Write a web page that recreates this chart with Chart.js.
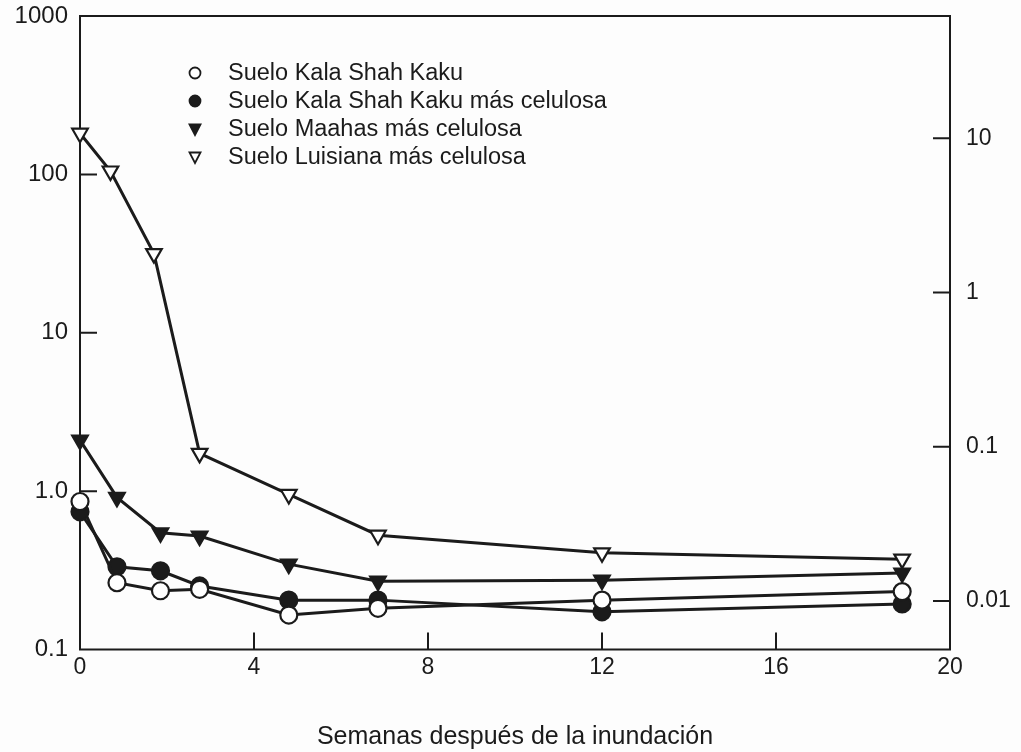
<!DOCTYPE html>
<html>
<head>
<meta charset="utf-8">
<script src="https://cdn.jsdelivr.net/npm/chart.js@4.4.1/dist/chart.umd.min.js"></script>
<style>
  html, body { margin: 0; padding: 0; background: #fdfdfd; }
  #wrap { width: 1021px; height: 752px; }
</style>
</head>
<body>
<div id="wrap"><canvas id="chart" width="1021" height="752"></canvas></div>
<script>
// weeks after flooding (x) and values
const weeks = [0, 0.85, 1.85, 2.75, 4.8, 6.85, 12, 18.9];
const weeksLuisiana = [0, 0.7, 1.7, 2.75, 4.8, 6.85, 12, 18.9];

const kalaShahKaku = [0.86, 0.264, 0.235, 0.24, 0.165, 0.182, 0.205, 0.232];
const kalaShahKakuCelulosa = [0.74, 0.333, 0.314, 0.252, 0.205, 0.205, 0.173, 0.194];
const maahasCelulosa = [2.1, 0.913, 0.546, 0.52, 0.346, 0.27, 0.274, 0.304];
const luisianaCelulosa = [182, 105, 31.6, 1.73, 0.953, 0.527, 0.408, 0.372];

const seriesLabels = [
  "Suelo Kala Shah Kaku",
  "Suelo Kala Shah Kaku más celulosa",
  "Suelo Maahas más celulosa",
  "Suelo Luisiana más celulosa"
];

const xTicks = [0, 4, 8, 12, 16, 20];
const leftTicks = [0.1, 1, 10, 100, 1000];
const leftTickLabels = ["0.1", "1.0", "10", "100", "1000"];
const rightTicks = [0.01, 0.1, 1, 10];
const rightTickLabels = ["0.01", "0.1", "1", "10"];
const xTitle = "Semanas después de la inundación";

const ink = "#1b1b1b";
const fontFamily = "'Liberation Sans', Arial, Helvetica, sans-serif";

function pts(xs, ys) {
  return xs.map((x, i) => ({ x: x, y: ys[i] }));
}

function series(label, data, style, filled) {
  return {
    label: label,
    data: data,
    borderColor: ink,
    borderWidth: 3,
    tension: 0,
    clip: false,
    pointStyle: style,
    pointRotation: style === "triangle" ? 180 : 0,
    pointRadius: style === "triangle" ? 9 : 8.5,
    pointBorderWidth: 2.2,
    pointBorderColor: ink,
    pointBackgroundColor: filled ? ink : "#ffffff"
  };
}

// fixed box sizes so the plot area sits where the original's frame is
function fixWidth(w) {
  return s => { s.width = w; s.paddingTop = 0; s.paddingBottom = 0; };
}

// frame + inward tick marks
const frameTicks = {
  id: "frameTicks",
  beforeDatasetsDraw(chart) {
    const ctx = chart.ctx;
    const a = chart.chartArea;
    const len = 17;
    ctx.save();
    ctx.strokeStyle = ink;
    ctx.lineWidth = 2;
    ctx.strokeRect(a.left, a.top, a.right - a.left, a.bottom - a.top);
    ctx.beginPath();
    const x = chart.scales.x, y = chart.scales.y, y2 = chart.scales.y2;
    xTicks.slice(1, -1).forEach(v => {
      const px = x.getPixelForValue(v);
      ctx.moveTo(px, a.bottom);
      ctx.lineTo(px, a.bottom - len);
    });
    leftTicks.slice(1, -1).forEach(v => {
      const py = y.getPixelForValue(v);
      ctx.moveTo(a.left, py);
      ctx.lineTo(a.left + len, py);
    });
    rightTicks.forEach(v => {
      const py = y2.getPixelForValue(v);
      ctx.moveTo(a.right, py);
      ctx.lineTo(a.right - len, py);
    });
    ctx.stroke();
    ctx.restore();
  }
};

// legend drawn inside the plot
const innerLegend = {
  id: "innerLegend",
  afterDraw(chart) {
    const ctx = chart.ctx;
    const mx = 195, tx = 228, y0 = 73, dy = 28;
    ctx.save();
    ctx.font = "23.5px " + fontFamily;
    ctx.textBaseline = "middle";
    ctx.fillStyle = ink;
    chart.data.datasets.forEach((ds, i) => {
      const cy = y0 + i * dy;
      ctx.lineWidth = 1.8;
      ctx.strokeStyle = ink;
      ctx.fillStyle = ds.pointBackgroundColor;
      ctx.beginPath();
      if (ds.pointStyle === "circle") {
        ctx.arc(mx, cy, 5.5, 0, Math.PI * 2);
      } else {
        ctx.moveTo(mx - 5.5, cy - 4.5);
        ctx.lineTo(mx + 5.5, cy - 4.5);
        ctx.lineTo(mx, cy + 6);
        ctx.closePath();
      }
      ctx.fill();
      ctx.stroke();
      ctx.fillStyle = ink;
      ctx.fillText(ds.label, tx, cy + 1);
    });
    ctx.restore();
  }
};

new Chart(document.getElementById("chart"), {
  type: "line",
  data: {
    datasets: [
      series(seriesLabels[0], pts(weeks, kalaShahKaku), "circle", false),
      series(seriesLabels[1], pts(weeks, kalaShahKakuCelulosa), "circle", true),
      series(seriesLabels[2], pts(weeks, maahasCelulosa), "triangle", true),
      series(seriesLabels[3], pts(weeksLuisiana, luisianaCelulosa), "triangle", false)
    ]
  },
  options: {
    responsive: false,
    devicePixelRatio: 1,
    animation: false,
    events: [],
    layout: { padding: { top: 16, left: 0, right: 0, bottom: 0 } },
    plugins: { legend: { display: false }, tooltip: { enabled: false } },
    scales: {
      x: {
        type: "linear",
        min: 0,
        max: 20,
        afterBuildTicks: s => { s.ticks = xTicks.map(v => ({ value: v })); },
        afterFit: s => { s.height = 102.5; },
        grid: { display: false, drawTicks: false },
        border: { display: false },
        ticks: {
          autoSkip: false,
          maxRotation: 0,
          padding: 4,
          color: ink,
          font: { family: fontFamily, size: 23 },
          callback: v => String(v)
        },
        title: {
          display: true,
          text: xTitle,
          color: ink,
          font: { family: fontFamily, size: 25 },
          padding: { top: 0, bottom: 0 }
        }
      },
      y: {
        type: "logarithmic",
        position: "left",
        min: 0.1,
        max: 1000,
        afterBuildTicks: s => { s.ticks = leftTicks.map(v => ({ value: v })); },
        afterFit: fixWidth(80),
        grid: { display: false, drawTicks: false },
        border: { display: false },
        ticks: {
          autoSkip: false,
          padding: 12,
          color: ink,
          font: { family: fontFamily, size: 24 },
          callback: (v, i) => leftTickLabels[i]
        }
      },
      y2: {
        type: "logarithmic",
        position: "right",
        min: 0.00485,
        max: 62,
        afterBuildTicks: s => { s.ticks = rightTicks.map(v => ({ value: v })); },
        afterFit: fixWidth(71),
        grid: { display: false, drawTicks: false },
        border: { display: false },
        ticks: {
          autoSkip: false,
          padding: 16,
          color: ink,
          font: { family: fontFamily, size: 23 },
          callback: (v, i) => rightTickLabels[i]
        }
      }
    }
  },
  plugins: [frameTicks, innerLegend]
});
</script>
</body>
</html>
